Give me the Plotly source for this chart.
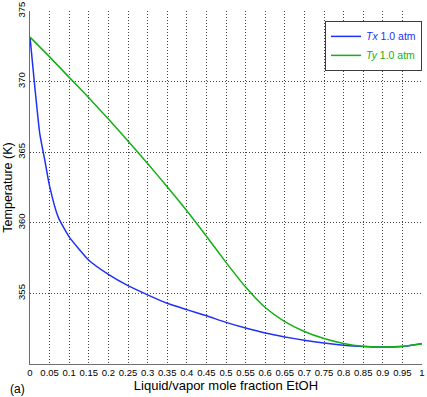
import plotly.graph_objects as go

# Liquid (Tx) curve
x_liq = [0, 0.0127, 0.025, 0.038, 0.05, 0.072, 0.1, 0.15, 0.2, 0.25, 0.3, 0.35, 0.4,
         0.45, 0.5, 0.55, 0.6, 0.65, 0.7, 0.75, 0.8, 0.85, 0.894, 0.95, 1.0]
T_liq = [373.15, 369.5, 366.3, 364.4, 362.6, 360.4, 359.0, 357.35, 356.35, 355.55, 354.9,
         354.3, 353.85, 353.42, 352.95, 352.55, 352.2, 351.92, 351.68, 351.48, 351.33,
         351.24, 351.2, 351.24, 351.44]

# Vapor (Ty) curve
x_vap = [0, 0.05, 0.1, 0.15, 0.2, 0.25, 0.3, 0.35, 0.4, 0.45, 0.5, 0.55, 0.6, 0.65,
         0.7, 0.75, 0.8, 0.85, 0.894, 0.95, 1.0]
T_vap = [373.15, 371.75, 370.3, 368.85, 367.35, 365.8, 364.2, 362.55, 360.85, 359.05,
         357.2, 355.45, 354.0, 353.0, 352.3, 351.8, 351.45, 351.25, 351.2, 351.25, 351.44]

x_ticks = [0, 0.05, 0.1, 0.15, 0.2, 0.25, 0.3, 0.35, 0.4, 0.45, 0.5, 0.55, 0.6, 0.65,
           0.7, 0.75, 0.8, 0.85, 0.9, 0.95, 1]
x_ticklabels = ["0", "0.05", "0.1", "0.15", "0.2", "0.25", "0.3", "0.35", "0.4", "0.45",
                "0.5", "0.55", "0.6", "0.65", "0.7", "0.75", "0.8", "0.85", "0.9", "0.95", "1"]
y_ticks = [355, 360, 365, 370, 375]

blue = "rgb(30,50,245)"
green = "rgb(20,175,20)"

fig = go.Figure()
fig.add_trace(go.Scatter(x=x_liq, y=T_liq, mode="lines",
                         line=dict(color=blue, width=1.5, shape="spline", smoothing=0.5),
                         name=f"<span style='color:{blue}'><i>Tx</i> 1.0 atm</span>"))
fig.add_trace(go.Scatter(x=x_vap, y=T_vap, mode="lines",
                         line=dict(color=green, width=1.5, shape="spline", smoothing=0.6),
                         name=f"<span style='color:{green}'><i>Ty</i> 1.0 atm</span>"))

grid = dict(showgrid=True, gridcolor="rgb(70,70,70)", griddash="1px,2px", gridwidth=1)

fig.update_layout(
    width=427, height=397,
    margin=dict(l=30, r=2, t=9, b=33),
    paper_bgcolor="white", plot_bgcolor="white",
    font=dict(family="Liberation Sans, Arial, sans-serif", size=9, color="black"),
    showlegend=True,
    legend=dict(x=1.0, y=0.972, xanchor="right", yanchor="top",
                bordercolor="rgb(60,60,60)", borderwidth=1, bgcolor="white",
                font=dict(size=10.5), tracegroupgap=0, itemwidth=30),
    xaxis=dict(range=[0, 1], tickvals=x_ticks, ticktext=x_ticklabels,
               showline=True, linecolor="rgb(110,110,110)", linewidth=1,
               ticks="", zeroline=False, tickfont=dict(size=9.5),
               ticklabeloverflow="allow",
               title=dict(text="Liquid/vapor mole fraction EtOH",
                          font=dict(size=13), standoff=2),
               **grid),
    yaxis=dict(range=[350, 375], tickvals=y_ticks, tickangle=-90,
               showline=True, linecolor="rgb(110,110,110)", linewidth=1,
               ticks="", zeroline=False, tickfont=dict(size=9.5),
               ticklabeloverflow="allow",
               title=dict(text="Temperature (K)", font=dict(size=12.5), standoff=0),
               **grid),
)

fig.add_annotation(text="(a)", xref="paper", yref="paper", x=-0.055, y=-0.045,
                   xanchor="left", yanchor="top", showarrow=False,
                   font=dict(size=12))

fig.write_html("out.html")
